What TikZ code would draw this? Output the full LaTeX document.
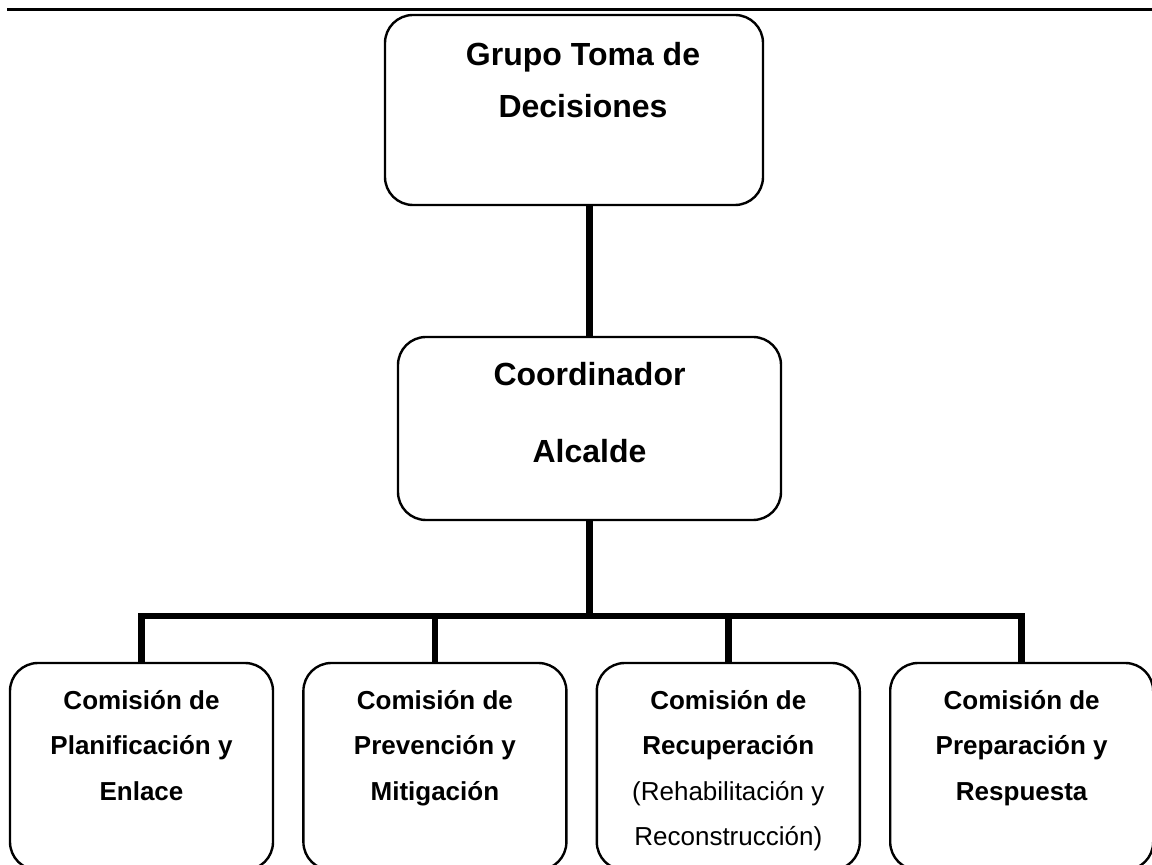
\documentclass[tikz,border=0pt]{standalone}
\usepackage{fontspec}
\setmainfont{Liberation Sans}
\usetikzlibrary{positioning}

\begin{document}
\begin{tikzpicture}[
    x=0.5pt, y=-0.5pt,
    node distance=14pt,
    box/.style={draw,line width=1.2pt,rounded corners=14pt,inner sep=0pt},
    topbox/.style={box,minimum width=189pt,minimum height=95pt},
    midbox/.style={box,minimum width=191.5pt,minimum height=91.5pt},
    combox/.style={box,minimum width=131.5pt,minimum height=103.5pt},
    txt/.style={anchor=north,align=center,inner sep=0pt},
    bigtxt/.style={txt,yshift=-14pt,font=\fontsize{16}{26}\selectfont\bfseries},
    comtxt/.style={txt,yshift=-13.9pt,font=\fontsize{13}{22.8}\selectfont\bfseries},
    conn/.style={line width=3.3pt}
]
\useasboundingbox (0,0) rectangle (1152,865);
\draw[line width=1.5pt] (7,10) -- (1152,10);

\node[topbox,label={[bigtxt,xshift=4.5pt]north:{Grupo Toma de\\Decisiones}}] (top) at (574,110) {};
\node[midbox,label={[bigtxt,yshift=0.8pt,font=\fontsize{16}{38.5}\selectfont\bfseries]north:{Coordinador\\Alcalde}}] (coord) at (589.5,428.5) {};

\node[combox,label={[comtxt]north:{Comisión de\\Planificación y\\Enlace}}] (plan) at (141.5,766.5) {};
\node[combox,right=of plan,label={[comtxt]north:{Comisión de\\Prevención y\\Mitigación}}] (prev) {};
\node[combox,right=of prev,label={[comtxt]north:{Comisión de\\Recuperación\\{\mdseries(Rehabilitación y}\\{\mdseries Reconstrucción)}}}] (recu) {};
\node[combox,right=of recu,label={[comtxt]north:{Comisión de\\Preparación y\\Respuesta}}] (prep) {};

% connectors
\coordinate (bus) at (590,616);
\draw[conn] (coord.north) -- (coord.north |- top.south);
\draw[conn] (coord.south) -- (coord.south |- bus);
\draw[conn] (plan.north) |- (bus) -| (prep.north);
\foreach \c in {prev,recu}
    \draw[conn] (\c.north) -- (\c.north |- bus);
\end{tikzpicture}
\end{document}
